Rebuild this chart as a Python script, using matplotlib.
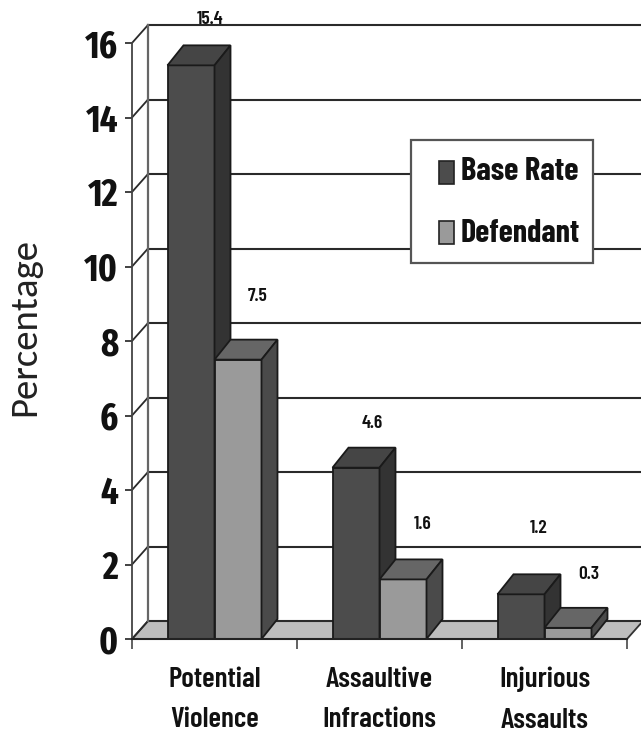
import matplotlib
matplotlib.use("Agg")
import matplotlib.pyplot as plt
from matplotlib.patches import Polygon, Rectangle

categories = ['Potential\nViolence', 'Assaultive\nInfractions', 'Injurious\nAssaults']
base_rate = [15.4, 4.6, 1.2]
defendant = [7.5, 1.6, 0.3]
y_ticks = [0, 2, 4, 6, 8, 10, 12, 14, 16]
legend_names = ['Base Rate', 'Defendant']

# the original is a squeezed arial, these are the closest narrow fonts
NARROW = ['Barlow Condensed', 'Archivo Narrow', 'Liberation Sans', 'DejaVu Sans']
XNARROW = ['Fira Sans Extra Condensed', 'Barlow Condensed', 'Liberation Sans', 'DejaVu Sans']

# pixel scale of the plot, used to turn the 3d depth into data units
PX_X = 165.0
PX_Y = 37.25
wall_dx, wall_dy = 16 / PX_X, 18 / PX_Y
bar_dx, bar_dy = 16 / PX_X, 20 / PX_Y
bar_w = 47 / PX_X

# base colours: front, top, side
base_cols = ('#4c4c4c', '#454545', '#333333')
def_cols = ('#9a9a9a', '#666666', '#4a4a4a')
edge = '#1a1a1a'

fig = plt.figure(figsize=(6.41, 7.33), dpi=100, facecolor='white')
ax = fig.add_axes([132 / 641, (733 - 639) / 733, 495 / 641, 596 / 733])
ax.set_xlim(-0.5, 2.5)
ax.set_ylim(0, 16)
ax.patch.set_visible(False)


def poly(pts, fc, z):
    ax.add_patch(Polygon(pts, closed=True, facecolor=fc, edgecolor=edge, linewidth=1.3,
                         clip_on=False, zorder=z))


# floor
ax.add_patch(Polygon([(-0.5, 0), (2.5, 0), (2.5 + wall_dx, wall_dy), (-0.5 + wall_dx, wall_dy)],
                     closed=True, facecolor='#bdbdbd', edgecolor='#333333', linewidth=1.3,
                     clip_on=False, zorder=1))

# back wall lines and grid
for t in y_ticks:
    ax.plot([-0.5 + wall_dx, 2.5 + wall_dx], [t + wall_dy, t + wall_dy], color='#2a2a2a', lw=1.5,
            clip_on=False, zorder=1.5)
    ax.plot([-0.5, -0.5 + wall_dx], [t, t + wall_dy], color='#2a2a2a', lw=1.3,
            clip_on=False, zorder=1.5)
ax.plot([-0.5 + wall_dx] * 2, [wall_dy, 16 + wall_dy], color='#666666', lw=1.6, clip_on=False, zorder=1.5)


def bar3d(x0, h, cols, z):
    x1 = x0 + bar_w
    poly([(x0, 0), (x1, 0), (x1, h), (x0, h)], cols[0], z)
    poly([(x0, h), (x1, h), (x1 + bar_dx, h + bar_dy), (x0 + bar_dx, h + bar_dy)], cols[1], z)
    poly([(x1, 0), (x1 + bar_dx, bar_dy), (x1 + bar_dx, h + bar_dy), (x1, h)], cols[2], z)


for i in range(len(categories)):
    bar3d(i - bar_w, base_rate[i], base_cols, 2 + i)
    bar3d(i, defendant[i], def_cols, 2.5 + i)

# value labels sit above the bars, offsets in pixels
base_off = [(19, 46), (16, 44), (18, 66)]
def_off = [(20, 63), (20, 55), (21, 53)]
for i in range(len(categories)):
    for vals, shift, off in ((base_rate, -bar_w / 2, base_off[i]), (defendant, bar_w / 2, def_off[i])):
        ax.annotate(f'{vals[i]:.1f}', (i + shift, vals[i]), xytext=(off[0] * 0.72, off[1] * 0.72),
                    textcoords='offset points', ha='center', va='center', fontsize=14,
                    fontweight='semibold', family=NARROW, color='#111111', zorder=9,
                    annotation_clip=False)

# axis
for s in ('top', 'right'):
    ax.spines[s].set_visible(False)
ax.spines['left'].set_color('#444444')
ax.spines['left'].set_linewidth(1.3)
ax.spines['bottom'].set_color('#222222')
ax.spines['bottom'].set_linewidth(1.5)
ax.spines['bottom'].set_zorder(8)
ax.set_yticks(y_ticks)
ax.set_yticklabels([str(t) for t in y_ticks], fontsize=27, fontweight='bold', family=XNARROW, color='#111111')
ax.tick_params(axis='y', length=5, width=1.3, color='#333333', pad=5)
ax.set_xticks([-0.5, 0.5, 1.5, 2.5])
ax.set_xticklabels([])
ax.tick_params(axis='x', length=7.5, width=1.3, color='#555555')
ax.set_xticks(range(len(categories)), minor=True)
ax.set_xticklabels(categories, minor=True, fontsize=21, fontweight='semibold', family=NARROW,
                   color='#111111', linespacing=1.78)
ax.tick_params(axis='x', which='minor', length=0, pad=20)

fig.text(25 / 641, 1 - 327 / 733, 'Percentage', rotation=90, ha='center', va='center',
         fontsize=28, family=['Carlito', 'Open Sans'], color='#222222')

# legend box, in figure pixels
def fr(x, y, w, h, fc, ec, lw, z):
    fig.add_artist(Rectangle((x / 641, 1 - (y + h) / 733), w / 641, h / 733, facecolor=fc,
                             edgecolor=ec, linewidth=lw, transform=fig.transFigure, zorder=z))


fr(411, 140, 182, 123, 'white', '#555555', 1.6, 10)
fr(439, 161, 15, 23, base_cols[0], '#222222', 1.2, 11)
fr(439, 221, 15, 23, def_cols[0], '#222222', 1.2, 11)
fig.text(461 / 641, 1 - 172 / 733, legend_names[0], fontsize=23.5, fontweight='bold', family=NARROW,
         va='center', ha='left', color='#111111', zorder=12)
fig.text(461 / 641, 1 - 233 / 733, legend_names[1], fontsize=23, fontweight='bold', family=NARROW,
         va='center', ha='left', color='#111111', zorder=12)

fig.savefig('out.png', dpi=100)
